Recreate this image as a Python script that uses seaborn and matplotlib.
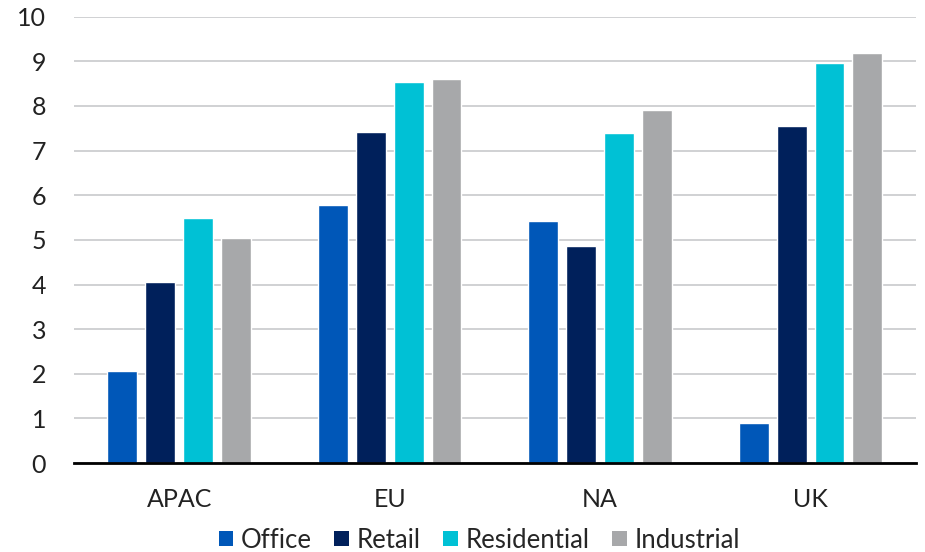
import matplotlib
matplotlib.use("Agg")
import matplotlib.pyplot as plt
import seaborn as sns
import pandas as pd
from matplotlib.patches import Patch

regions = ["APAC", "EU", "NA", "UK"]
sectors = ["Office", "Retail", "Residential", "Industrial"]
office = [2.07, 5.77, 5.43, 0.90]
retail = [4.06, 7.42, 4.87, 7.55]
residential = [5.49, 8.54, 7.40, 8.95]
industrial = [5.05, 8.61, 7.91, 9.19]
colors = ["#0057B8", "#00205B", "#00C1D5", "#A7A8AA"]

rows = []
for s, vals in zip(sectors, [office, retail, residential, industrial]):
    for r, v in zip(regions, vals):
        rows.append({"Region": r, "Sector": s, "Value": v})
df = pd.DataFrame(rows)

sns.set_theme(style="white")
plt.rcParams["font.family"] = ["Lato", "DejaVu Sans"]

fig, ax = plt.subplots(figsize=(9.25, 5.52), dpi=100)
fig.subplots_adjust(left=0.08, right=0.99, top=0.97, bottom=0.161)

sns.barplot(data=df, x="Region", y="Value", hue="Sector", order=regions,
            hue_order=sectors, palette=colors, width=0.72, gap=0.21,
            saturation=1, ax=ax, legend=False)

ax.set_ylim(0, 10)
ax.set_yticks(range(0, 11))
ax.set_xlim(-0.5, 3.5)
ax.yaxis.grid(True, color="#c8c9cc", linewidth=1.2)
ax.set_axisbelow(True)
for sp in ["top", "right", "left"]:
    ax.spines[sp].set_visible(False)
ax.spines["bottom"].set_color("black")
ax.spines["bottom"].set_linewidth(2)
ax.set_xlabel("")
ax.set_ylabel("")
ax.tick_params(axis="both", labelsize=18, colors="#222222", length=0)
ax.tick_params(axis="y", pad=20)
ax.tick_params(axis="x", pad=18)

handles = [Patch(facecolor=c, edgecolor="none") for c in colors]
fig.legend(handles, sectors, loc="lower center", ncol=4, frameon=False,
           fontsize=18.5, bbox_to_anchor=(0.518, -0.043), handlelength=0.55,
           handleheight=0.55, handletextpad=0.3, columnspacing=0.9)

fig.savefig("out.png", dpi=100)
